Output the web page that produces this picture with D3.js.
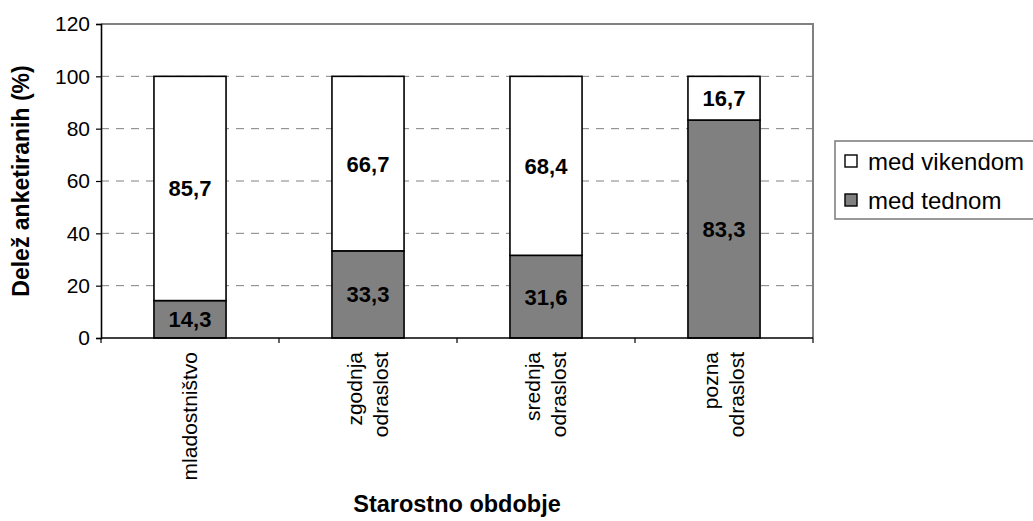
<!DOCTYPE html>
<html>
<head>
<meta charset="utf-8">
<script src="https://cdn.jsdelivr.net/npm/d3@7"></script>
<style>
  html, body { margin: 0; padding: 0; background: #fff; }
  svg { display: block; font-family: "Liberation Sans", Arial, sans-serif; }
</style>
</head>
<body>
<svg id="chart" width="1033" height="521"></svg>
<script>
// Age groups (each label line drawn on its own row)
const categories = [
  ["mladostništvo"],
  ["zgodnja", "odraslost"],
  ["srednja", "odraslost"],
  ["pozna", "odraslost"]
];
const categoryKeys = categories.map(c => c.join(" "));

// Share of respondents (%) per age group
const weekdayValues = [14.3, 33.3, 31.6, 83.3];   // med tednom
const weekendValues = [85.7, 66.7, 68.4, 16.7];   // med vikendom

const seriesNames = ["med vikendom", "med tednom"];
const yTicks = [0, 20, 40, 60, 80, 100, 120];

const yTitle = "Delež anketiranih (%)";
const xTitle = "Starostno obdobje";

const FONT = "'Liberation Sans', Arial, sans-serif";
const svg = d3.select("#chart");
const plot = { left: 101, right: 813, top: 24, bottom: 338 };
const GRAY = "#808080";

const x = d3.scaleBand()
  .domain(categoryKeys)
  .range([plot.left, plot.right])
  .paddingInner(0.595)
  .paddingOuter(0.2975);

const y = d3.scaleLinear().domain([0, 120]).range([plot.bottom, plot.top]);

// dashed gridlines
svg.append("g").selectAll("line")
  .data(yTicks.filter(t => t > 0 && t < 120))
  .join("line")
  .attr("x1", plot.left).attr("x2", plot.right)
  .attr("y1", d => y(d)).attr("y2", d => y(d))
  .attr("stroke", GRAY).attr("stroke-width", 1)
  .attr("stroke-dasharray", "8,7");

// top and right plot-area border
svg.append("path")
  .attr("d", `M${plot.left},${y(120)}H${plot.right}V${plot.bottom}`)
  .attr("fill", "none").attr("stroke", GRAY).attr("stroke-width", 2);

// stacked data
const rows = categoryKeys.map((k, i) => ({ key: k, tednom: weekdayValues[i], vikendom: weekendValues[i] }));
const stack = d3.stack().keys(["tednom", "vikendom"])(rows);
const fills = { tednom: GRAY, vikendom: "#ffffff" };

svg.append("g").selectAll("g")
  .data(stack)
  .join("g")
  .attr("fill", d => fills[d.key])
  .selectAll("rect")
  .data(d => d)
  .join("rect")
  .attr("x", d => x(d.data.key))
  .attr("width", x.bandwidth())
  .attr("y", d => y(d[1]))
  .attr("height", d => y(d[0]) - y(d[1]))
  .attr("stroke", "#000").attr("stroke-width", 1.6);

// value labels inside segments
svg.append("g").selectAll("g")
  .data(stack)
  .join("g")
  .selectAll("text")
  .data(d => d.map(s => ({ s, key: d.key })))
  .join("text")
  .attr("x", d => x(d.s.data.key) + x.bandwidth() / 2)
  .attr("y", d => y((d.s[0] + d.s[1]) / 2))
  .attr("dy", "0.36em")
  .attr("text-anchor", "middle")
  .attr("font-weight", "bold")
  .attr("font-size", 22)
  .attr("fill", "#000")
  .text(d => (d.s[1] - d.s[0]).toFixed(1).replace(".", ","));

// y axis
const yAxis = d3.axisLeft(y).tickValues(yTicks).tickSize(5).tickPadding(6);
const gy = svg.append("g").attr("transform", `translate(${plot.left},0)`).call(yAxis);
gy.select(".domain").attr("stroke", "#000").attr("stroke-width", 1.6);
gy.selectAll(".tick line").attr("stroke", "#000").attr("stroke-width", 1.2);
gy.selectAll(".tick text")
  .attr("font-size", 21).attr("font-family", FONT)
  .attr("fill", "#000");

// x axis: ticks on category boundaries
const boundaries = d3.range(categoryKeys.length + 1).map(i => plot.left + i * x.step());
svg.append("line")
  .attr("x1", plot.left).attr("x2", plot.right)
  .attr("y1", plot.bottom).attr("y2", plot.bottom)
  .attr("stroke", "#000").attr("stroke-width", 1.6);
svg.append("g").selectAll("line")
  .data(boundaries)
  .join("line")
  .attr("x1", d => d).attr("x2", d => d)
  .attr("y1", plot.bottom).attr("y2", plot.bottom + 5)
  .attr("stroke", "#000").attr("stroke-width", 1.2);

// rotated category labels
const lineGap = 26;
const catLabels = svg.append("g").selectAll("text")
  .data(categories)
  .join("text")
  .attr("transform", (d, i) => `translate(${x(categoryKeys[i]) + x.bandwidth() / 2},${plot.bottom + 14}) rotate(-90)`)
  .attr("text-anchor", "end")
  .attr("font-size", 21)
  .attr("fill", "#000");
catLabels.selectAll("tspan")
  .data(d => d.map((line, j) => ({ line, j, n: d.length })))
  .join("tspan")
  .attr("x", 0)
  .attr("y", d => (d.j - (d.n - 1) / 2) * lineGap + 7)
  .text(d => d.line);

// axis titles
svg.append("text")
  .attr("transform", `translate(29,${(plot.top + plot.bottom) / 2}) rotate(-90)`)
  .attr("text-anchor", "middle")
  .attr("font-weight", "bold").attr("font-size", 23)
  .text(yTitle);

svg.append("text")
  .attr("x", (plot.left + plot.right) / 2)
  .attr("y", 512)
  .attr("text-anchor", "middle")
  .attr("font-weight", "bold").attr("font-size", 23.5)
  .text(xTitle);

// legend
const legend = svg.append("g").attr("transform", "translate(835,141)");
legend.append("rect")
  .attr("x", 0).attr("y", 0).attr("width", 220).attr("height", 78)
  .attr("fill", "#fff").attr("stroke", GRAY).attr("stroke-width", 1.6);
const legendItems = legend.selectAll("g.item")
  .data(seriesNames)
  .join("g")
  .attr("class", "item")
  .attr("transform", (d, i) => `translate(10,${20 + i * 39})`);
legendItems.append("rect")
  .attr("x", 0).attr("y", -6).attr("width", 12).attr("height", 12)
  .attr("fill", (d, i) => i === 0 ? "#fff" : GRAY)
  .attr("stroke", "#000").attr("stroke-width", 1.4);
legendItems.append("text")
  .attr("x", 23).attr("y", 0).attr("dy", "0.36em")
  .attr("font-size", 24)
  .attr("fill", "#000")
  .text(d => d);
</script>
</body>
</html>
